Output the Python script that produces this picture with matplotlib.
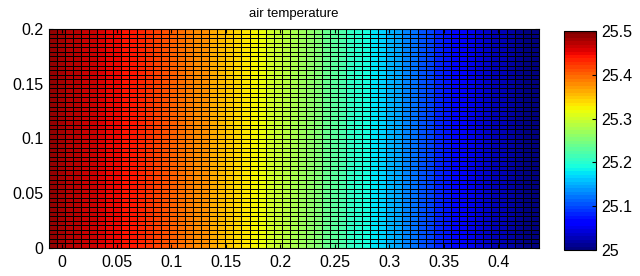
import numpy as np
import matplotlib
matplotlib.use("Agg")
import matplotlib.pyplot as plt

# fraction of the colour range per column (left to right)
col_frac = [0.97, 0.962, 0.953, 0.944, 0.934, 0.925, 0.915, 0.905, 0.895, 0.885,
            0.875, 0.861, 0.847, 0.833, 0.819, 0.806, 0.792, 0.778, 0.764, 0.75,
            0.732, 0.714, 0.696, 0.679, 0.661, 0.643, 0.625, 0.607, 0.589, 0.571,
            0.554, 0.536, 0.518, 0.50, 0.479, 0.458, 0.438, 0.417, 0.396, 0.375,
            0.352, 0.330, 0.307, 0.284, 0.261, 0.239, 0.216, 0.193, 0.170, 0.148,
            0.125, 0.112, 0.099, 0.086, 0.074, 0.062, 0.050, 0.038, 0.026, 0.014, 0.005]
t_min, t_max = 25.0, 25.5
col_temp = [t_min + (t_max - t_min) * f for f in col_frac]
n_rows = 48
x_range = (-0.0125, 0.4375)
y_range = (0.0, 0.2)
x_ticks = [0, 0.05, 0.1, 0.15, 0.2, 0.25, 0.3, 0.35, 0.4]
x_ticklabels = ["0", "0.05", "0.1", "0.15", "0.2", "0.25", "0.3", "0.35", "0.4"]
y_ticks = [0, 0.05, 0.1, 0.15, 0.2]
y_ticklabels = ["0", "0.05", "0.1", "0.15", "0.2"]
cb_ticks = [25, 25.1, 25.2, 25.3, 25.4, 25.5]
cb_ticklabels = ["25", "25.1", "25.2", "25.3", "25.4", "25.5"]
title = "air temperature"

plt.rcParams['font.family'] = ['Liberation Sans', 'DejaVu Sans']

xe = np.linspace(x_range[0], x_range[1], len(col_temp) + 1)
ye = np.linspace(y_range[0], y_range[1], n_rows + 1)
Z = np.tile(np.array(col_temp), (n_rows, 1))

fig = plt.figure(figsize=(6.4, 2.76), dpi=100)
ax = fig.add_axes([48.5/640, 1-248/276, (539-48.5)/640, (248-29)/276])
cmap = plt.get_cmap('jet', 64)
m = ax.pcolormesh(xe, ye, Z, cmap=cmap, vmin=t_min, vmax=t_max,
                  edgecolors='k', linewidth=0.6)
ax.set_xlim(x_range)
ax.set_ylim(y_range)
ax.set_xticks(x_ticks)
ax.set_xticklabels(x_ticklabels)
ax.set_yticks(y_ticks)
ax.set_yticklabels(y_ticklabels)
ax.tick_params(direction='in', labelsize=11.5, top=True, right=True, length=3)
ax.tick_params(axis='x', pad=5)
ax.set_title(title, fontsize=9.5, pad=9)

cax = fig.add_axes([564/640, 1-250/276, 32/640, (250-31)/276])
cb = fig.colorbar(m, cax=cax, ticks=cb_ticks)
cb.ax.set_yticklabels(cb_ticklabels)
cb.ax.tick_params(direction='in', labelsize=11.5, length=3)
cb.outline.set_linewidth(0.8)

fig.savefig("out.png", dpi=100)
